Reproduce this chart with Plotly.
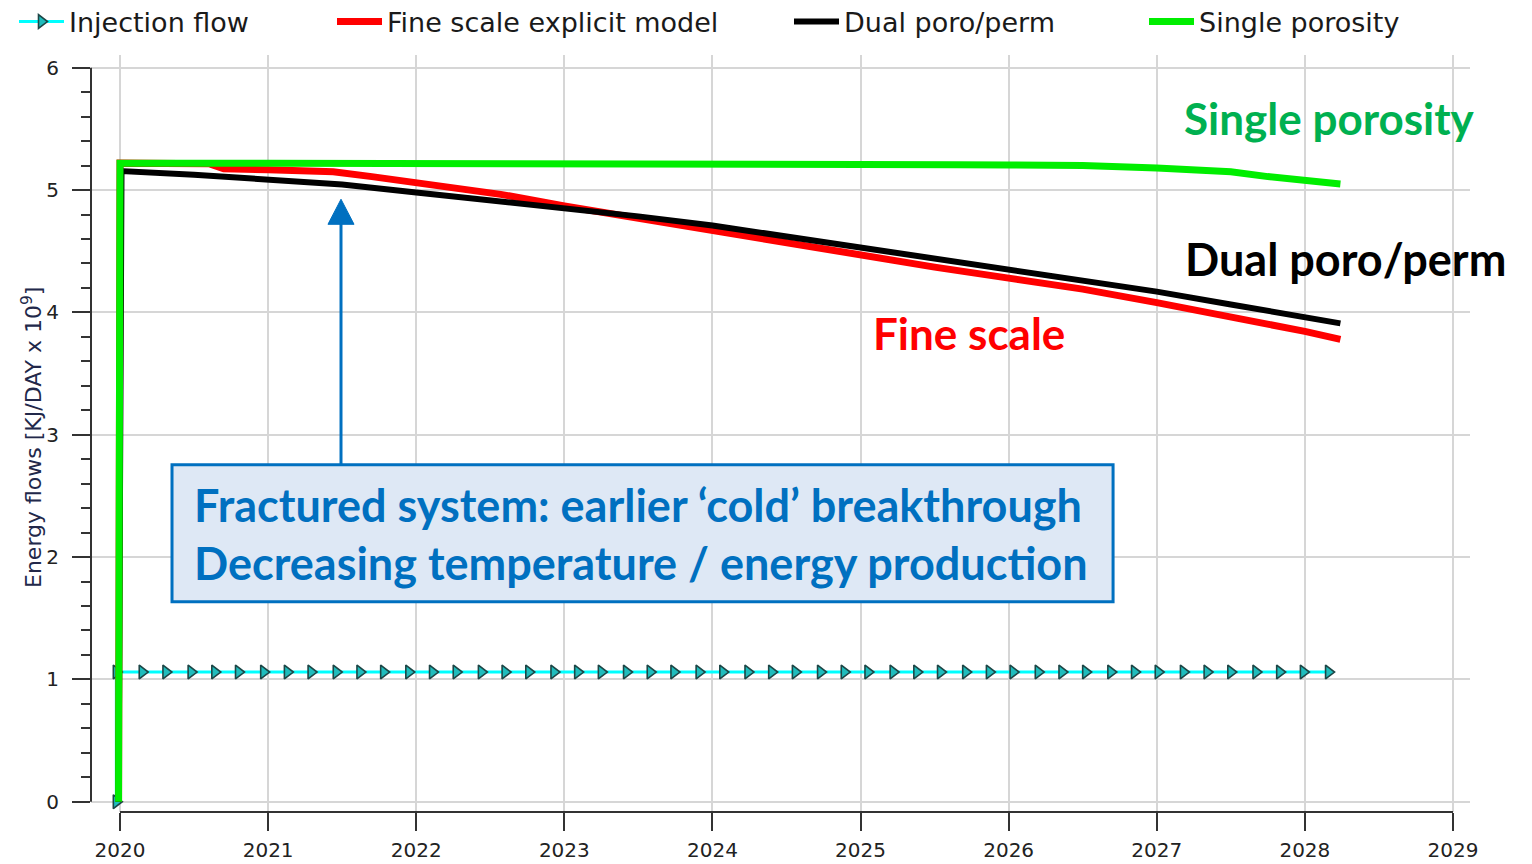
import plotly.graph_objects as go

# ---------------- data ----------------
inj_time = [2019.975, 2019.975,
            2020.15, 2020.31, 2020.48, 2020.64, 2020.80, 2020.97, 2021.13, 2021.29, 2021.46, 2021.62,
            2021.78, 2021.95, 2022.11, 2022.27, 2022.44, 2022.60, 2022.76, 2022.93, 2023.09, 2023.25,
            2023.42, 2023.58, 2023.74, 2023.91, 2024.07, 2024.24, 2024.40, 2024.56, 2024.73, 2024.89,
            2025.05, 2025.22, 2025.38, 2025.54, 2025.71, 2025.87, 2026.03, 2026.20, 2026.36, 2026.52,
            2026.69, 2026.85, 2027.01, 2027.18, 2027.34, 2027.50, 2027.67, 2027.83, 2027.99, 2028.16]
inj_flow = [0.0, 1.06] + [1.06] * 50

fine_time = [2019.99, 2020.00, 2020.60, 2020.70, 2021.00, 2021.44, 2021.70, 2022.00, 2022.30, 2022.57,
             2023.00, 2023.50, 2024.00, 2024.50, 2025.00, 2025.50, 2026.00, 2026.50, 2027.00, 2027.50,
             2028.00, 2028.24]
fine_flow = [0.0, 5.22, 5.215, 5.175, 5.165, 5.15, 5.11, 5.06, 5.01, 4.965,
             4.87, 4.77, 4.665, 4.57, 4.475, 4.37, 4.28, 4.19, 4.08, 3.965,
             3.845, 3.78]

dual_time = [2019.99, 2020.01, 2020.50, 2021.00, 2021.50, 2022.00, 2022.57, 2023.00, 2023.50, 2024.00,
             2024.50, 2025.00, 2025.50, 2026.00, 2026.50, 2027.00, 2027.50, 2028.00, 2028.24]
dual_flow = [0.0, 5.155, 5.125, 5.09, 5.045, 4.98, 4.91, 4.85, 4.785, 4.71,
             4.62, 4.54, 4.45, 4.36, 4.27, 4.17, 4.065, 3.955, 3.91]

single_time = [2019.99, 2020.00, 2021.00, 2022.00, 2023.00, 2024.00, 2025.00, 2025.55, 2025.65, 2026.00,
               2026.50, 2027.00, 2027.25, 2027.50, 2027.75, 2028.00, 2028.24]
single_flow = [0.0, 5.22, 5.22, 5.22, 5.22, 5.22, 5.22, 5.22, 5.207, 5.205,
               5.20, 5.18, 5.17, 5.15, 5.11, 5.08, 5.05]

year_ticks = [2020, 2021, 2022, 2023, 2024, 2025, 2026, 2027, 2028, 2029]
year_labels = [str(y) for y in year_ticks]
y_ticks = [0, 1, 2, 3, 4, 5, 6]

# ---------------- figure ----------------
W, H = 1532, 864
fig = go.Figure()

fig.add_trace(go.Scatter(
    x=inj_time, y=inj_flow, name="Injection flow", mode="lines+markers",
    line=dict(color="#00ffff", width=3),
    marker=dict(symbol="triangle-right", size=12, color="#1fbcbc",
                line=dict(color="#1d4646", width=1.6)),
    legend="legend"))
fig.add_trace(go.Scatter(
    x=fine_time, y=fine_flow, name="Fine scale explicit model", mode="lines",
    line=dict(color="#ff0000", width=7), legend="legend2"))
fig.add_trace(go.Scatter(
    x=dual_time, y=dual_flow, name="Dual poro/perm", mode="lines",
    line=dict(color="#000000", width=6), legend="legend3"))
fig.add_trace(go.Scatter(
    x=single_time, y=single_flow, name="Single porosity", mode="lines",
    line=dict(color="#00ee00", width=7), legend="legend4"))

tick_font = dict(family="DejaVu Sans", size=20, color="#222222")
leg_font = dict(family="DejaVu Sans", size=27, color="#1a1a1a")

def leg(xpx):
    return dict(orientation="h", x=xpx / W, y=1 - 22 / H, xref="container", yref="container",
                xanchor="left", yanchor="middle", font=leg_font, bgcolor="rgba(0,0,0,0)",
                itemwidth=45, borderwidth=0)

fig.update_layout(
    width=W, height=H,
    margin=dict(l=91, r=62, t=55, b=52, autoexpand=False),
    plot_bgcolor="white", paper_bgcolor="white",
    showlegend=True,
    legend=leg(14), legend2=leg(332), legend3=leg(789), legend4=leg(1144),
    xaxis=dict(range=[2019.804, 2029.115], tickmode="array", tickvals=year_ticks,
               ticktext=year_labels, showgrid=True, gridcolor="#d6d6d6", gridwidth=1.5,
               zeroline=False, showline=False, ticks="outside", ticklen=18, tickwidth=2,
               tickcolor="#333333", tickfont=tick_font, ticklabelstandoff=2, automargin=False),
    yaxis=dict(range=[-0.084, 6.104], tickmode="array", tickvals=y_ticks,
               showgrid=True, gridcolor="#d6d6d6", gridwidth=1.5,
               zeroline=False, showline=False, ticks="outside", ticklen=18, tickwidth=2,
               tickcolor="#333333", tickfont=tick_font, ticklabelstandoff=9, automargin=False,
               minor=dict(ticks="outside", ticklen=9, tickwidth=2, tickcolor="#333333",
                          dtick=0.2, tick0=0, showgrid=False)),
)

# axis lines (offset style of the original)
fig.add_shape(type="line", xref="x", yref="paper", x0=2020, x1=2029, y0=0, y1=0,
              line=dict(color="#333333", width=2))
fig.add_shape(type="line", xref="paper", yref="y", x0=0, x1=0, y0=0, y1=6,
              line=dict(color="#333333", width=2))

# y-axis title
fig.add_annotation(text="Energy flows [KJ/DAY x 10<sup>9</sup>]", textangle=-90,
                   xref="paper", yref="paper", x=(32 - 91) / 1379, y=(812 - 438) / 757,
                   xanchor="center", yanchor="middle", showarrow=False,
                   font=dict(family="DejaVu Sans", size=22, color="#22284a"))

# callout box
blue = "#0070c0"
fig.add_shape(type="rect", xref="x", yref="y", x0=2020.351, x1=2026.705, y0=1.634, y1=2.755,
              line=dict(color=blue, width=3), fillcolor="#dee8f5", layer="above")
fig.add_shape(type="line", xref="x", yref="y", x0=2021.492, x1=2021.492, y0=2.755, y1=4.74,
              line=dict(color=blue, width=3))
fig.add_shape(type="path", xref="x", yref="y",
              path="M 2021.404 4.72 L 2021.58 4.72 L 2021.492 4.925 Z",
              fillcolor=blue, line=dict(color=blue, width=1))

box_font = dict(family="Lato", size=45, color=blue)
fig.add_annotation(text="<b>Fractured system: earlier ‘cold’ breakthrough</b>", xref="x", yref="y",
                   x=2020.485, y=2.428, xanchor="left", yanchor="middle", showarrow=False, font=box_font)
fig.add_annotation(text="<b>Decreasing temperature / energy production</b>", xref="x", yref="y",
                   x=2020.485, y=1.954, xanchor="left", yanchor="middle", showarrow=False, font=box_font)

# series labels
fig.add_annotation(text="<b>Single porosity</b>", xref="x", yref="y", x=2027.17, y=5.587,
                   xanchor="left", yanchor="middle", showarrow=False,
                   font=dict(family="Lato", size=44, color="#00b050"))
fig.add_annotation(text="<b>Dual poro/perm</b>", xref="x", yref="y", x=2027.18, y=4.433,
                   xanchor="left", yanchor="middle", showarrow=False,
                   font=dict(family="Lato", size=45, color="#000000"))
fig.add_annotation(text="<b>Fine scale</b>", xref="x", yref="y", x=2025.07, y=3.835,
                   xanchor="left", yanchor="middle", showarrow=False,
                   font=dict(family="Lato", size=44, color="#ff0000"))

fig.write_html("out.html", config={"displayModeBar": False},
               post_script="document.body.style.margin='0';document.body.style.overflow='hidden';")
